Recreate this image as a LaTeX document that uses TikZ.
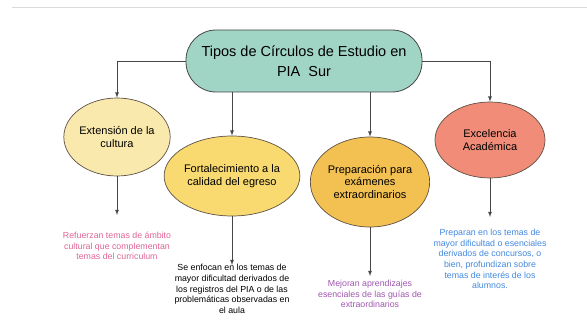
\documentclass[tikz,border=0pt]{standalone}
\usepackage{fontspec}
\setmainfont{Liberation Sans}
\usepackage{tikz}
\usetikzlibrary{positioning}
\usetikzlibrary{shapes.geometric}
\definecolor{color-top}{RGB}{160,212,196}
\definecolor{color-ext}{RGB}{250,233,172}
\definecolor{color-fort}{RGB}{248,218,112}
\definecolor{color-prep}{RGB}{243,192,82}
\definecolor{color-exc}{RGB}{240,140,120}
\definecolor{pink}{RGB}{222,100,150}
\definecolor{purple}{RGB}{160,86,176}
\definecolor{blue}{RGB}{66,136,222}
\definecolor{line}{RGB}{70,70,70}

\begin{document}
\begin{tikzpicture}[x=1pt, y=-1pt, >=latex,
  conn/.style={draw=line, line width=0.8pt},
  topbox/.style={rectangle, rounded corners=30pt, draw=line, line width=0.8pt, fill=color-top,
    minimum width=236pt, minimum height=62pt, align=center, inner sep=2pt,
    font=\fontsize{14.5}{20}\selectfont},
  oval/.style={ellipse, draw=line!80!brown, line width=0.7pt, fill=#1, align=center, inner sep=0pt,
    font=\fontsize{11}{12.5}\selectfont},
  note/.style={align=center, inner sep=1pt, text=#1, font=\fontsize{8.8}{10.6}\selectfont}]

\useasboundingbox (0,0) rectangle (587,321);
\draw [black!14, line width=0.8pt] (12,7) -- (587,7);

% central node
\node [topbox] (top) at (304,61) {Tipos de Círculos de Estudio en\\PIA\ \ Sur};

% the four kinds
\node [oval=color-ext, minimum width=98pt, minimum height=78pt] (ext) at (117,137) {Extensión de la\\cultura};
\node [oval=color-fort, minimum width=108pt, minimum height=80pt] (fort) at (232,176) {Fortalecimiento a la\\calidad del egreso};
\node [oval=color-prep, minimum width=108pt, minimum height=90pt] (prep) at (370,182) {Preparación para\\exámenes\\extraordinarios};
\node [oval=color-exc, minimum width=110pt, minimum height=76pt] (exc) at (490,140) {Excelencia\\Académica};

\draw [conn,->] (top.west) -| (ext.north);
\draw [conn,->] (top.east) -| (exc.north);
\draw [conn,->] (fort.north |- top.south) -- (fort.north);
\draw [conn,->] (prep.north |- top.south) -- (prep.north);

% descriptions
\node [note=pink] (dext) at (117,246) {Refuerzan temas de ámbito\\cultural que complementan\\temas del curriculum};
\node [note=black] (dfort) at (232,289) {Se enfocan en los temas de\\mayor dificultad derivados de\\los registros del PIA o de las\\problemáticas observadas en\\el aula};
\node [note=purple] (dprep) at (370,294) {Mejoran aprendizajes\\esenciales de las guías de\\extraordinarios};
\node [note=blue] (dexc) at (490,259) {Preparan en los temas de\\mayor dificultad o esenciales\\derivados de concursos, o\\bien, profundizan sobre\\temas de interés de los\\alumnos.};

\coordinate (tipext) at (117,215);
\coordinate (tipfort) at (232,265);
\coordinate (tipprep) at (370,276);
\coordinate (tipexc) at (490,217);

\draw [conn,->] (ext.south) -- (tipext);
\draw [conn,->] (fort.south) -- (tipfort);
\draw [conn,->] (prep.south) -- (tipprep);
\draw [conn,->] (exc.south) -- (tipexc);

\end{tikzpicture}
\end{document}
